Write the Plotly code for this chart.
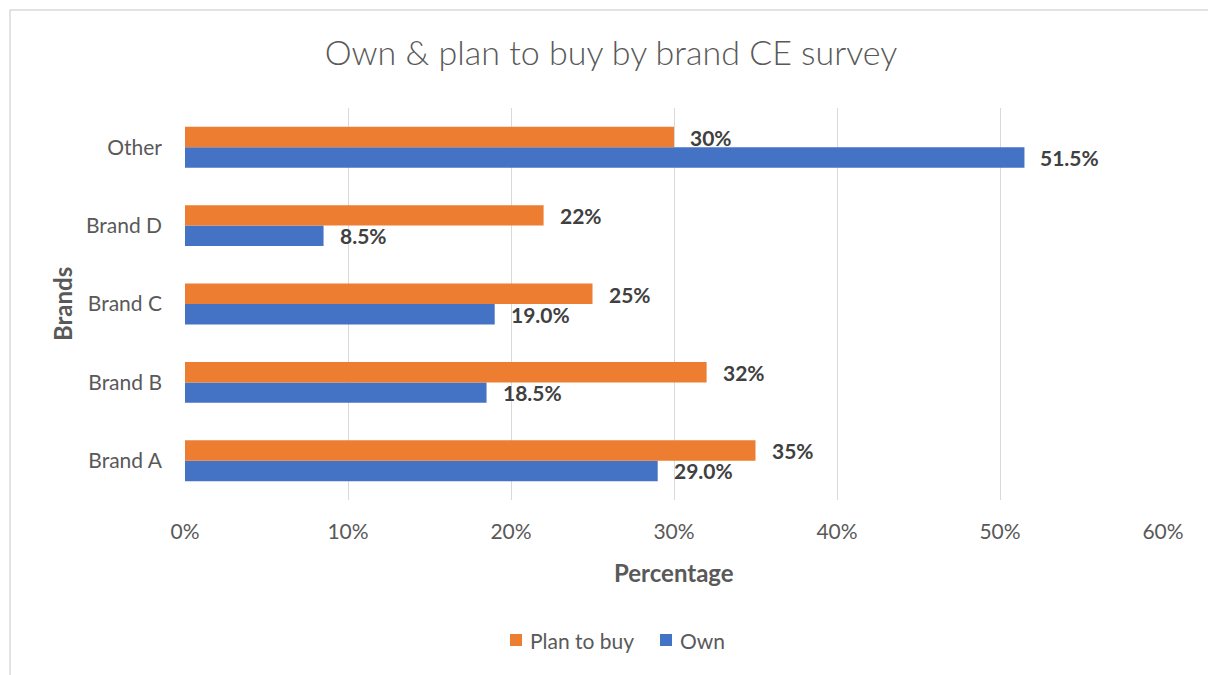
import plotly.graph_objects as go

# Survey results per brand (percent of respondents)
brands = ["Brand A", "Brand B", "Brand C", "Brand D", "Other"]
own = [29.0, 18.5, 19.0, 8.5, 51.5]
plan_to_buy = [35, 32, 25, 22, 30]
x_ticks = [0, 10, 20, 30, 40, 50, 60]

ORANGE = "#ED7D31"
BLUE = "#4472C4"
GRAY_TEXT = "#595959"
LABEL_TEXT = "#404040"
GRID = "#D9D9D9"
FONT = "Lato, Open Sans, sans-serif"

W, H = 1208, 675
L, R, T, B = 185, 45, 108, 175
plot_w = W - L - R
plot_h = H - T - B


def px_x(px):
    return (px - L) / plot_w


def px_y(py):
    return (H - B - py) / plot_h


fig = go.Figure()
fig.add_trace(go.Bar(y=brands, x=own, orientation="h", name="Own",
                     marker=dict(color=BLUE, line=dict(width=0))))
fig.add_trace(go.Bar(y=brands, x=plan_to_buy, orientation="h", name="Plan to buy",
                     marker=dict(color=ORANGE, line=dict(width=0))))

annotations = []
for b, v in zip(brands, own):
    annotations.append(dict(x=v, y=b, xref="x", yref="y", text=f"<b>{v:.1f}%</b>",
                            showarrow=False, xanchor="left", yanchor="middle",
                            xshift=14, yshift=-10,
                            font=dict(family=FONT, size=21, color=LABEL_TEXT)))
for b, v in zip(brands, plan_to_buy):
    annotations.append(dict(x=v, y=b, xref="x", yref="y", text=f"<b>{v:.0f}%</b>",
                            showarrow=False, xanchor="left", yanchor="middle",
                            xshift=14, yshift=10,
                            font=dict(family=FONT, size=21, color=LABEL_TEXT)))

# axis titles
annotations.append(dict(x=0.5, y=px_y(572), xref="paper", yref="paper",
                        text="<b>Percentage</b>", showarrow=False,
                        xanchor="center", yanchor="middle",
                        font=dict(family=FONT, size=24, color=GRAY_TEXT)))
annotations.append(dict(x=px_x(62), y=px_y(304), xref="paper", yref="paper",
                        text="<b>Brands</b>", showarrow=False, textangle=-90,
                        xanchor="center", yanchor="middle",
                        font=dict(family=FONT, size=24, color=GRAY_TEXT)))

# legend: coloured squares with series names underneath the axis
shapes = []
legend_items = [("Plan to buy", ORANGE, 510), ("Own", BLUE, 660)]
for name, color, left in legend_items:
    shapes.append(dict(type="rect", xref="paper", yref="paper",
                       x0=px_x(left), x1=px_x(left + 12),
                       y0=px_y(646), y1=px_y(634),
                       line=dict(width=0), fillcolor=color))
    annotations.append(dict(x=px_x(left + 18), y=px_y(640), xref="paper", yref="paper",
                            text=name, showarrow=False,
                            xanchor="left", yanchor="middle",
                            font=dict(family=FONT, size=21, color=GRAY_TEXT)))

# chart border
shapes.append(dict(type="rect", xref="paper", yref="paper",
                   x0=px_x(10), x1=px_x(1230), y0=px_y(700), y1=px_y(10),
                   line=dict(color=GRID, width=1.5), fillcolor="rgba(0,0,0,0)",
                   layer="below"))

fig.update_layout(
    width=W, height=H,
    margin=dict(l=L, r=R, t=T, b=B),
    paper_bgcolor="white", plot_bgcolor="white",
    barmode="group", bargap=0.478, bargroupgap=0,
    title=dict(text="Own & plan to buy by brand CE survey",
               x=611 / W, xref="container", xanchor="center",
               y=1 - 53 / H, yref="container", yanchor="middle",
               font=dict(family=FONT, size=34, color=GRAY_TEXT, weight=300)),
    xaxis=dict(range=[0, 60], tickvals=x_ticks,
               ticktext=[f"{t}%" for t in x_ticks],
               showgrid=True, gridcolor=GRID, gridwidth=1,
               zeroline=False, showline=False, ticks="",
               ticklabelstandoff=17,
               tickfont=dict(family=FONT, size=21, color=GRAY_TEXT)),
    yaxis=dict(categoryorder="array", categoryarray=brands,
               showgrid=False, zeroline=False, showline=False, ticks="",
               ticklabelstandoff=22,
               tickfont=dict(family=FONT, size=21, color=GRAY_TEXT)),
    showlegend=False,
    annotations=annotations,
    shapes=shapes,
)

fig.write_html("out.html")
